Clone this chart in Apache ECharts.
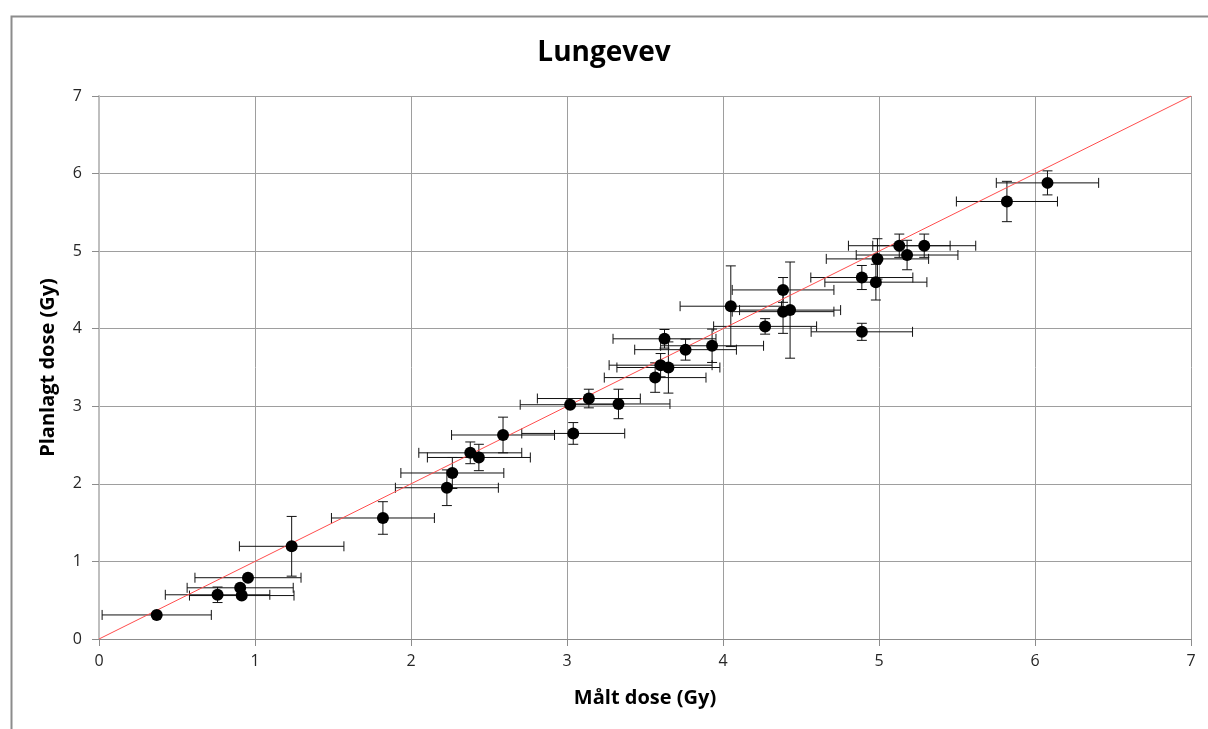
<!DOCTYPE html>
<html>
<head>
<meta charset="utf-8">
<script src="https://cdn.jsdelivr.net/npm/echarts@6/dist/echarts.min.js"></script>
<style>
html,body{margin:0;padding:0;background:#fff;}
#chart{width:1208px;height:729px;}
</style>
</head>
<body>
<div id="chart"></div>
<script>
var titleText = 'Lungevev';
var xAxisTitle = 'Målt dose (Gy)';
var yAxisTitle = 'Planlagt dose (Gy)';
var tickValues = [0, 1, 2, 3, 4, 5, 6, 7];

// measured dose (x), planned dose (y)
var maltDose = [0.37, 0.76, 0.915, 0.905, 0.955, 1.235, 1.82, 2.23, 2.265, 2.38, 2.435, 2.59,
  3.04, 3.02, 3.14, 3.33, 3.565, 3.60, 3.65, 3.625, 3.76, 3.93, 4.05, 4.27, 4.385, 4.385,
  4.43, 4.89, 4.89, 4.98, 4.99, 5.13, 5.18, 5.29, 5.82, 6.08];
var planlagtDose = [0.31, 0.57, 0.56, 0.66, 0.79, 1.195, 1.56, 1.95, 2.14, 2.40, 2.34, 2.63,
  2.65, 3.02, 3.10, 3.03, 3.37, 3.53, 3.50, 3.87, 3.73, 3.78, 4.29, 4.03, 4.50, 4.22,
  4.24, 3.96, 4.66, 4.60, 4.90, 5.07, 4.95, 5.07, 5.64, 5.88];
var xErr = [0.35, 0.335, 0.335, 0.34, 0.34, 0.335, 0.33, 0.33, 0.33, 0.33, 0.33, 0.33,
  0.33, 0.32, 0.33, 0.33, 0.326, 0.33, 0.33, 0.33, 0.326, 0.33, 0.325, 0.33, 0.326, 0.326,
  0.324, 0.325, 0.327, 0.327, 0.328, 0.326, 0.326, 0.33, 0.324, 0.328];
var yErr = [0.02, 0.10, 0.03, 0.03, 0.03, 0.385, 0.21, 0.23, 0.20, 0.14, 0.17, 0.23,
  0.14, 0.03, 0.12, 0.19, 0.19, 0.15, 0.33, 0.12, 0.135, 0.215, 0.52, 0.10, 0.16, 0.28,
  0.62, 0.11, 0.155, 0.23, 0.26, 0.15, 0.19, 0.15, 0.26, 0.155];
var identityLine = [[0, 0], [7, 7]];

var pts = maltDose.map(function (x, i) { return [x, planlagtDose[i]]; });
var errData = maltDose.map(function (x, i) { return [x, planlagtDose[i], xErr[i], yErr[i]]; });

var FONT = '"Open Sans", "Noto Sans", sans-serif';
var chart = echarts.init(document.getElementById('chart'), null, {renderer: 'canvas'});

function renderErr(params, api) {
  var x = api.value(0), y = api.value(1), ex = api.value(2), ey = api.value(3);
  var l = api.coord([x - ex, y]), r = api.coord([x + ex, y]);
  var t = api.coord([x, y + ey]), b = api.coord([x, y - ey]);
  var cap = 5;
  var st = {stroke: '#111', lineWidth: 1};
  return {
    type: 'group',
    children: [
      {type: 'line', shape: {x1: l[0], y1: l[1], x2: r[0], y2: r[1]}, style: st},
      {type: 'line', shape: {x1: l[0], y1: l[1] - cap, x2: l[0], y2: l[1] + cap}, style: st},
      {type: 'line', shape: {x1: r[0], y1: r[1] - cap, x2: r[0], y2: r[1] + cap}, style: st},
      {type: 'line', shape: {x1: t[0], y1: t[1], x2: b[0], y2: b[1]}, style: st},
      {type: 'line', shape: {x1: t[0] - cap, y1: t[1], x2: t[0] + cap, y2: t[1]}, style: st},
      {type: 'line', shape: {x1: b[0] - cap, y1: b[1], x2: b[0] + cap, y2: b[1]}, style: st}
    ]
  };
}

chart.setOption({
  animation: false,
  backgroundColor: '#fff',
  graphic: [{
    type: 'rect', left: 9, top: 14, z: -10,
    shape: {width: 1300, height: 800},
    style: {fill: 'none', stroke: '#8c8c8c', lineWidth: 2}
  }],
  title: {
    text: titleText, left: 'center', top: 34,
    textStyle: {fontFamily: FONT, fontSize: 28, fontWeight: 'bold', color: '#000'}
  },
  grid: {left: 99, top: 96, right: 17, bottom: 90, containLabel: false},
  xAxis: {
    type: 'value', min: 0, max: 7, interval: 1,
    name: xAxisTitle, nameLocation: 'middle', nameGap: 49,
    nameTextStyle: {fontFamily: FONT, fontSize: 20, fontWeight: 'bold', color: '#000'},
    axisLine: {show: true, onZero: false, lineStyle: {color: '#8c8c8c', width: 1}},
    axisTick: {show: true, inside: false, length: 7, lineStyle: {color: '#8c8c8c'}},
    axisLabel: {fontFamily: FONT, fontSize: 16, color: '#262626', margin: 14,
      formatter: function (v) { return tickValues.indexOf(v) >= 0 ? String(v) : ''; }},
    splitLine: {show: true, lineStyle: {color: '#9e9e9e', width: 1}}
  },
  yAxis: {
    type: 'value', min: 0, max: 7, interval: 1,
    name: yAxisTitle, nameLocation: 'middle', nameGap: 41, nameRotate: 90,
    nameTextStyle: {fontFamily: FONT, fontSize: 20, fontWeight: 'bold', color: '#000'},
    axisLine: {show: true, onZero: false, lineStyle: {color: '#bfbfbf', width: 2}},
    axisTick: {show: true, inside: false, length: 7, lineStyle: {color: '#8c8c8c'}},
    axisLabel: {fontFamily: FONT, fontSize: 16, color: '#262626', margin: 17,
      formatter: function (v) { return tickValues.indexOf(v) >= 0 ? String(v) : ''; }},
    splitLine: {show: true, lineStyle: {color: '#9e9e9e', width: 1}}
  },
  series: [
    {
      type: 'custom', renderItem: renderErr, data: errData, z: 2,
      encode: {x: 0, y: 1}, silent: true
    },
    {
      type: 'line', data: identityLine, symbol: 'none', z: 3, silent: true,
      lineStyle: {color: '#ff4d4d', width: 1}
    },
    {
      type: 'scatter', data: pts, symbol: 'circle', symbolSize: 12, z: 4,
      itemStyle: {color: '#000', opacity: 1}
    }
  ]
});
</script>
</body>
</html>
